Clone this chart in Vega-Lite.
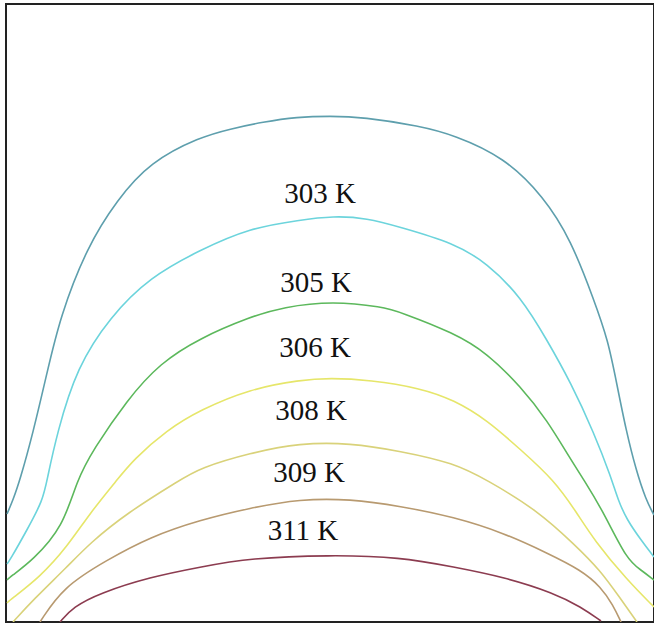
{
  "$schema": "https://vega.github.io/schema/vega-lite/v6.json",
  "width": 648,
  "height": 618,
  "autosize": {"type": "none"},
  "padding": {"left": 6, "top": 4, "right": 0, "bottom": 4},
  "background": "white",
  "config": {"view": {"stroke": "#222", "strokeWidth": 2}},
  "datasets": {
    "curves": [
      {"level": "c1", "i": 1, "x": 1, "y": 108}, {"level": "c1", "i": 2, "x": 7, "y": 122}, {"level": "c1", "i": 3, "x": 14, "y": 142}, {"level": "c1", "i": 4, "x": 27, "y": 189}, {"level": "c1", "i": 5, "x": 41, "y": 249}, {"level": "c1", "i": 6, "x": 54, "y": 305}, {"level": "c1", "i": 7, "x": 81, "y": 375}, {"level": "c1", "i": 8, "x": 111, "y": 422}, {"level": "c1", "i": 9, "x": 144, "y": 460}, {"level": "c1", "i": 10, "x": 194, "y": 485}, {"level": "c1", "i": 11, "x": 224, "y": 493}, {"level": "c1", "i": 12, "x": 257, "y": 500}, {"level": "c1", "i": 13, "x": 291, "y": 505}, {"level": "c1", "i": 14, "x": 324, "y": 506}, {"level": "c1", "i": 15, "x": 357, "y": 505}, {"level": "c1", "i": 16, "x": 414, "y": 496}, {"level": "c1", "i": 17, "x": 448, "y": 487}, {"level": "c1", "i": 18, "x": 498, "y": 465}, {"level": "c1", "i": 19, "x": 538, "y": 425}, {"level": "c1", "i": 20, "x": 565, "y": 382}, {"level": "c1", "i": 21, "x": 588, "y": 322}, {"level": "c1", "i": 22, "x": 602, "y": 282}, {"level": "c1", "i": 23, "x": 611, "y": 237}, {"level": "c1", "i": 24, "x": 620, "y": 192}, {"level": "c1", "i": 25, "x": 630, "y": 152}, {"level": "c1", "i": 26, "x": 640, "y": 122}, {"level": "c1", "i": 27, "x": 648, "y": 107},
      {"level": "c2", "i": 1, "x": 1, "y": 58}, {"level": "c2", "i": 2, "x": 4, "y": 62}, {"level": "c2", "i": 3, "x": 21, "y": 92}, {"level": "c2", "i": 4, "x": 37, "y": 122}, {"level": "c2", "i": 5, "x": 41, "y": 142}, {"level": "c2", "i": 6, "x": 51, "y": 189}, {"level": "c2", "i": 7, "x": 71, "y": 255}, {"level": "c2", "i": 8, "x": 104, "y": 305}, {"level": "c2", "i": 9, "x": 144, "y": 345}, {"level": "c2", "i": 10, "x": 194, "y": 372}, {"level": "c2", "i": 11, "x": 244, "y": 394}, {"level": "c2", "i": 12, "x": 294, "y": 402}, {"level": "c2", "i": 13, "x": 327, "y": 406}, {"level": "c2", "i": 14, "x": 361, "y": 404}, {"level": "c2", "i": 15, "x": 394, "y": 395}, {"level": "c2", "i": 16, "x": 448, "y": 379}, {"level": "c2", "i": 17, "x": 481, "y": 359}, {"level": "c2", "i": 18, "x": 515, "y": 325}, {"level": "c2", "i": 19, "x": 541, "y": 282}, {"level": "c2", "i": 20, "x": 565, "y": 239}, {"level": "c2", "i": 21, "x": 588, "y": 189}, {"level": "c2", "i": 22, "x": 605, "y": 145}, {"level": "c2", "i": 23, "x": 612, "y": 122}, {"level": "c2", "i": 24, "x": 621, "y": 102}, {"level": "c2", "i": 25, "x": 635, "y": 82}, {"level": "c2", "i": 26, "x": 648, "y": 65},
      {"level": "c3", "i": 1, "x": 1, "y": 42}, {"level": "c3", "i": 2, "x": 4, "y": 45}, {"level": "c3", "i": 3, "x": 27, "y": 62}, {"level": "c3", "i": 4, "x": 57, "y": 95}, {"level": "c3", "i": 5, "x": 71, "y": 142}, {"level": "c3", "i": 6, "x": 87, "y": 172}, {"level": "c3", "i": 7, "x": 121, "y": 222}, {"level": "c3", "i": 8, "x": 154, "y": 259}, {"level": "c3", "i": 9, "x": 194, "y": 284}, {"level": "c3", "i": 10, "x": 244, "y": 305}, {"level": "c3", "i": 11, "x": 277, "y": 315}, {"level": "c3", "i": 12, "x": 327, "y": 321}, {"level": "c3", "i": 13, "x": 377, "y": 315}, {"level": "c3", "i": 14, "x": 394, "y": 310}, {"level": "c3", "i": 15, "x": 448, "y": 289}, {"level": "c3", "i": 16, "x": 481, "y": 269}, {"level": "c3", "i": 17, "x": 515, "y": 235}, {"level": "c3", "i": 18, "x": 541, "y": 202}, {"level": "c3", "i": 19, "x": 565, "y": 162}, {"level": "c3", "i": 20, "x": 578, "y": 142}, {"level": "c3", "i": 21, "x": 598, "y": 109}, {"level": "c3", "i": 22, "x": 621, "y": 62}, {"level": "c3", "i": 23, "x": 635, "y": 52}, {"level": "c3", "i": 24, "x": 648, "y": 42},
      {"level": "c4", "i": 1, "x": 1, "y": 19}, {"level": "c4", "i": 2, "x": 4, "y": 22}, {"level": "c4", "i": 3, "x": 34, "y": 45}, {"level": "c4", "i": 4, "x": 61, "y": 75}, {"level": "c4", "i": 5, "x": 84, "y": 109}, {"level": "c4", "i": 6, "x": 111, "y": 142}, {"level": "c4", "i": 7, "x": 127, "y": 162}, {"level": "c4", "i": 8, "x": 161, "y": 192}, {"level": "c4", "i": 9, "x": 194, "y": 212}, {"level": "c4", "i": 10, "x": 244, "y": 233}, {"level": "c4", "i": 11, "x": 294, "y": 242}, {"level": "c4", "i": 12, "x": 324, "y": 244}, {"level": "c4", "i": 13, "x": 364, "y": 242}, {"level": "c4", "i": 14, "x": 414, "y": 234}, {"level": "c4", "i": 15, "x": 448, "y": 222}, {"level": "c4", "i": 16, "x": 481, "y": 202}, {"level": "c4", "i": 17, "x": 515, "y": 172}, {"level": "c4", "i": 18, "x": 548, "y": 142}, {"level": "c4", "i": 19, "x": 571, "y": 109}, {"level": "c4", "i": 20, "x": 588, "y": 82}, {"level": "c4", "i": 21, "x": 621, "y": 42}, {"level": "c4", "i": 22, "x": 648, "y": 15},
      {"level": "c5", "i": 1, "x": 7, "y": 0}, {"level": "c5", "i": 2, "x": 27, "y": 22}, {"level": "c5", "i": 3, "x": 61, "y": 55}, {"level": "c5", "i": 4, "x": 84, "y": 79}, {"level": "c5", "i": 5, "x": 121, "y": 109}, {"level": "c5", "i": 6, "x": 174, "y": 142}, {"level": "c5", "i": 7, "x": 194, "y": 154}, {"level": "c5", "i": 8, "x": 244, "y": 169}, {"level": "c5", "i": 9, "x": 294, "y": 179}, {"level": "c5", "i": 10, "x": 344, "y": 179}, {"level": "c5", "i": 11, "x": 394, "y": 171}, {"level": "c5", "i": 12, "x": 448, "y": 159}, {"level": "c5", "i": 13, "x": 481, "y": 142}, {"level": "c5", "i": 14, "x": 531, "y": 112}, {"level": "c5", "i": 15, "x": 569, "y": 77}, {"level": "c5", "i": 16, "x": 594, "y": 52}, {"level": "c5", "i": 17, "x": 614, "y": 24}, {"level": "c5", "i": 18, "x": 631, "y": 0},
      {"level": "c6", "i": 1, "x": 34, "y": 0}, {"level": "c6", "i": 2, "x": 57, "y": 35}, {"level": "c6", "i": 3, "x": 101, "y": 62}, {"level": "c6", "i": 4, "x": 144, "y": 85}, {"level": "c6", "i": 5, "x": 194, "y": 102}, {"level": "c6", "i": 6, "x": 244, "y": 114}, {"level": "c6", "i": 7, "x": 294, "y": 123}, {"level": "c6", "i": 8, "x": 344, "y": 123}, {"level": "c6", "i": 9, "x": 394, "y": 116}, {"level": "c6", "i": 10, "x": 448, "y": 105}, {"level": "c6", "i": 11, "x": 498, "y": 89}, {"level": "c6", "i": 12, "x": 541, "y": 69}, {"level": "c6", "i": 13, "x": 575, "y": 52}, {"level": "c6", "i": 14, "x": 595, "y": 35}, {"level": "c6", "i": 15, "x": 607, "y": 17}, {"level": "c6", "i": 16, "x": 615, "y": 0},
      {"level": "c7", "i": 1, "x": 54, "y": 0}, {"level": "c7", "i": 2, "x": 67, "y": 15}, {"level": "c7", "i": 3, "x": 94, "y": 29}, {"level": "c7", "i": 4, "x": 144, "y": 45}, {"level": "c7", "i": 5, "x": 194, "y": 55}, {"level": "c7", "i": 6, "x": 244, "y": 64}, {"level": "c7", "i": 7, "x": 324, "y": 67}, {"level": "c7", "i": 8, "x": 394, "y": 65}, {"level": "c7", "i": 9, "x": 448, "y": 55}, {"level": "c7", "i": 10, "x": 498, "y": 45}, {"level": "c7", "i": 11, "x": 548, "y": 29}, {"level": "c7", "i": 12, "x": 575, "y": 15}, {"level": "c7", "i": 13, "x": 595, "y": 1}
    ],
    "labels": [
      {"text": "303 K", "x": 314, "y": 419},
      {"text": "305 K", "x": 310, "y": 330},
      {"text": "306 K", "x": 309, "y": 265},
      {"text": "308 K", "x": 305, "y": 202},
      {"text": "309 K", "x": 303, "y": 140},
      {"text": "311 K", "x": 297, "y": 82}
    ]
  },
  "layer": [
    {
      "data": {"name": "curves"},
      "mark": {"type": "line", "strokeWidth": 1.6, "clip": true, "interpolate": "basis"},
      "encoding": {
        "x": {"field": "x", "type": "quantitative", "scale": {"domain": [0, 648], "nice": false, "zero": false}, "axis": null},
        "y": {"field": "y", "type": "quantitative", "scale": {"domain": [0, 618], "nice": false, "zero": false}, "axis": null},
        "order": {"field": "i", "type": "quantitative"},
        "color": {
          "field": "level", "type": "nominal", "legend": null,
          "scale": {"domain": ["c1", "c2", "c3", "c4", "c5", "c6", "c7"],
                    "range": ["#5e9fad", "#6cd4dc", "#5cb85c", "#e6e66a", "#d9d27a", "#b89a70", "#8c3c50"]}
        }
      }
    },
    {
      "data": {"name": "labels"},
      "mark": {"type": "text", "font": "Liberation Serif", "fontSize": 29, "align": "center", "baseline": "alphabetic", "color": "#111"},
      "encoding": {
        "x": {"field": "x", "type": "quantitative"},
        "y": {"field": "y", "type": "quantitative"},
        "text": {"field": "text", "type": "nominal"}
      }
    }
  ]
}
